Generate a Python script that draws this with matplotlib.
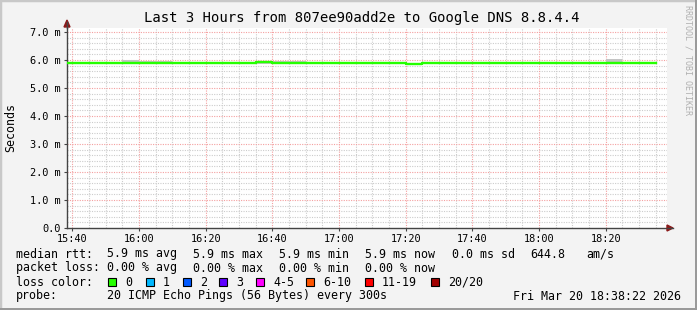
import numpy as np
import matplotlib
matplotlib.use("Agg")
import matplotlib.pyplot as plt
from matplotlib.patches import Rectangle

W, H = 697, 310
BG = "#f3f3f3"
MONO = "DejaVu Sans Mono"

# 5-minute steps (step start time), median rtt and smoke top in ms
step_labels = ["15:35", "15:40", "15:45", "15:50", "15:55", "16:00", "16:05", "16:10",
               "16:15", "16:20", "16:25", "16:30", "16:35", "16:40", "16:45", "16:50",
               "16:55", "17:00", "17:05", "17:10", "17:15", "17:20", "17:25", "17:30",
               "17:35", "17:40", "17:45", "17:50", "17:55", "18:00", "18:05", "18:10",
               "18:15", "18:20", "18:25", "18:30"]
median_ms = [5.89, 5.89, 5.89, 5.89, 5.89, 5.89, 5.89, 5.89,
             5.89, 5.89, 5.89, 5.89, 5.92, 5.89, 5.89, 5.89,
             5.89, 5.89, 5.89, 5.89, 5.89, 5.84, 5.89, 5.89,
             5.89, 5.89, 5.89, 5.89, 5.89, 5.89, 5.89, 5.89,
             5.89, 5.89, 5.89, 5.89]
smoke_hi_ms = [5.89, 5.89, 5.89, 5.89, 5.99, 5.97, 5.97, 5.89,
               5.89, 5.89, 5.89, 5.89, 5.92, 5.95, 5.95, 5.89,
               5.89, 5.89, 5.89, 5.89, 5.89, 5.84, 5.89, 5.89,
               5.89, 5.89, 5.89, 5.89, 5.92, 5.92, 5.92, 5.89,
               5.89, 6.04, 5.89, 5.89]
smoke_lo_ms = [5.89, 5.89, 5.89, 5.89, 5.89, 5.89, 5.89, 5.89,
               5.89, 5.89, 5.89, 5.89, 5.84, 5.89, 5.89, 5.89,
               5.89, 5.89, 5.89, 5.89, 5.89, 5.84, 5.89, 5.89,
               5.89, 5.89, 5.89, 5.89, 5.89, 5.89, 5.89, 5.89,
               5.89, 5.89, 5.89, 5.89]
data_end = "18:35"
view_start, view_end = "15:38:22", "18:38:22"

x_tick_labels = ["15:40", "16:00", "16:20", "16:40", "17:00", "17:20", "17:40", "18:00", "18:20"]
y_tick_values = [0, 1, 2, 3, 4, 5, 6, 7]
y_tick_labels = ["0.0", "1.0 m", "2.0 m", "3.0 m", "4.0 m", "5.0 m", "6.0 m", "7.0 m"]

loss_labels = ["0", "1", "2", "3", "4-5", "6-10", "11-19", "20/20"]
loss_colors = ["#26ff00", "#00b8ff", "#0059ff", "#5e00ff", "#ff00ff", "#ff5500", "#ff0000", "#a00000"]

title = "Last 3 Hours from 807ee90add2e to Google DNS 8.8.4.4"
rtt_items = ["median rtt:", "5.9 ms avg", "5.9 ms max", "5.9 ms min", "5.9 ms now",
             "0.0 ms sd", "644.8", "am/s"]
loss_items = ["packet loss:", "0.00 % avg", "0.00 % max", "0.00 % min", "0.00 % now"]
probe_items = ["probe:", "20 ICMP Echo Pings (56 Bytes) every 300s", "Fri Mar 20 18:38:22 2026"]


def to_min(s):
    parts = [int(p) for p in s.split(":")]
    while len(parts) < 3:
        parts.append(0)
    return (parts[0] - 15) * 60 + parts[1] + parts[2] / 60.0


def px(x, y):
    return x / W, 1 - y / H


fig = plt.figure(figsize=(W / 100, H / 100), dpi=100, facecolor=BG)

# frame
fig.add_artist(Rectangle((0, 0), 1, 1, transform=fig.transFigure, fill=False,
                         edgecolor="#c8c8c8", lw=2.5))
fig.add_artist(Rectangle((0, 0), 1, 2 / H, transform=fig.transFigure,
                         facecolor="#9a9a9a", edgecolor="none"))
fig.add_artist(Rectangle((1 - 2 / W, 0), 2 / W, 1, transform=fig.transFigure,
                         facecolor="#9a9a9a", edgecolor="none"))

L, R, T, B = 67, 667, 28, 228
ax = fig.add_axes([L / W, 1 - B / H, (R - L) / W, (B - T) / H], facecolor="white")

ymax = (B - T) / 28.0
ax.set_xlim(to_min(view_start), to_min(view_end))
ax.set_ylim(0, ymax)

# grid
minor_x = np.arange(to_min("15:40"), to_min(view_end), 5)
for x in minor_x:
    if round(x) % 20 != 0:
        ax.axvline(x, color="#cccccc", lw=0.8, ls=(0, (1.0, 1.2)), zorder=1)
for v in np.arange(0.2, ymax, 0.2):
    if abs(v - round(v)) > 1e-6:
        ax.axhline(v, color="#cccccc", lw=0.8, ls=(0, (1.0, 1.2)), zorder=1)
for lab in x_tick_labels:
    ax.axvline(to_min(lab), color="#f4a0a0", lw=0.8, ls=(0, (1.0, 1.2)), zorder=1.5)
for v in y_tick_values[1:]:
    ax.axhline(v, color="#f4a0a0", lw=0.8, ls=(0, (1.0, 1.2)), zorder=1.5)

# smoke + median
xs = [to_min(s) for s in step_labels] + [to_min(data_end)]
hi = smoke_hi_ms + smoke_hi_ms[-1:]
lo = smoke_lo_ms + smoke_lo_ms[-1:]
med = median_ms + median_ms[-1:]
ax.fill_between(xs, lo, hi, step="post", color="#c4c4c4", lw=0, zorder=2)
ax.step(xs, med, where="post", color=loss_colors[0], lw=1.7, zorder=3)

# axes styling
for s in ["top", "right"]:
    ax.spines[s].set_visible(False)
for s in ["left", "bottom"]:
    ax.spines[s].set_color("#444444")
    ax.spines[s].set_linewidth(1.0)
ax.set_xticks([to_min(l) for l in x_tick_labels])
ax.set_xticklabels(x_tick_labels, family=MONO, fontsize=7.4)
ax.set_yticks(y_tick_values)
ax.set_yticklabels(y_tick_labels, family=MONO, fontsize=7.4)
ax.tick_params(axis="both", length=2.5, width=0.8, color="#444444", pad=2)
ax.tick_params(axis="x", pad=1.5)

# axis arrows
fig.add_artist(plt.Line2D([R / W, 673 / W], [1 - B / H] * 2, color="#444444", lw=1))
fig.add_artist(plt.Line2D([L / W] * 2, [1 - T / H, 1 - 22 / H], color="#444444", lw=1))
fig.patches.append(plt.Polygon([px(667, 225), px(673, 228), px(667, 231)],
                               closed=True, transform=fig.transFigure, color="#8b1a1a"))
fig.patches.append(plt.Polygon([px(64, 27), px(67, 20), px(70, 27)],
                               closed=True, transform=fig.transFigure, color="#8b1a1a"))

# texts
fig.text(*px(362, 18), title, family=MONO, fontsize=10, ha="center", va="center")
fig.text(*px(11, 128), "Seconds", family=MONO, fontsize=8.4, rotation=90,
         ha="center", va="center")
fig.text(*px(688, 60), "RRDTOOL / TOBI OETIKER", family=MONO, fontsize=6,
         rotation=270, ha="center", va="center", color="#b0b0b0")

rtt_x = [16, 107, 193, 279, 365, 452, 530, 586]
for x, t in zip(rtt_x, rtt_items):
    fig.text(*px(x, 254), t, family=MONO, fontsize=8.4, va="center")
for x, t in zip(rtt_x[:5], loss_items):
    fig.text(*px(x, 268), t, family=MONO, fontsize=8.4, va="center")

fig.text(*px(16, 282), "loss color:", family=MONO, fontsize=8.4, va="center")
box_x = [108, 146, 183, 219, 256, 306, 365, 431]
for x, lab, c in zip(box_x, loss_labels, loss_colors):
    fig.add_artist(Rectangle(px(x, 286), 8 / W, 8 / H, transform=fig.transFigure,
                             facecolor=c, edgecolor="black", lw=0.8))
    fig.text(*px(x + 17, 282), lab, family=MONO, fontsize=8.4, va="center")

for x, t in zip([16, 107, 513], probe_items):
    fig.text(*px(x, 296), t, family=MONO, fontsize=8.4, va="center")

fig.savefig("out.png", dpi=100, facecolor=BG)
